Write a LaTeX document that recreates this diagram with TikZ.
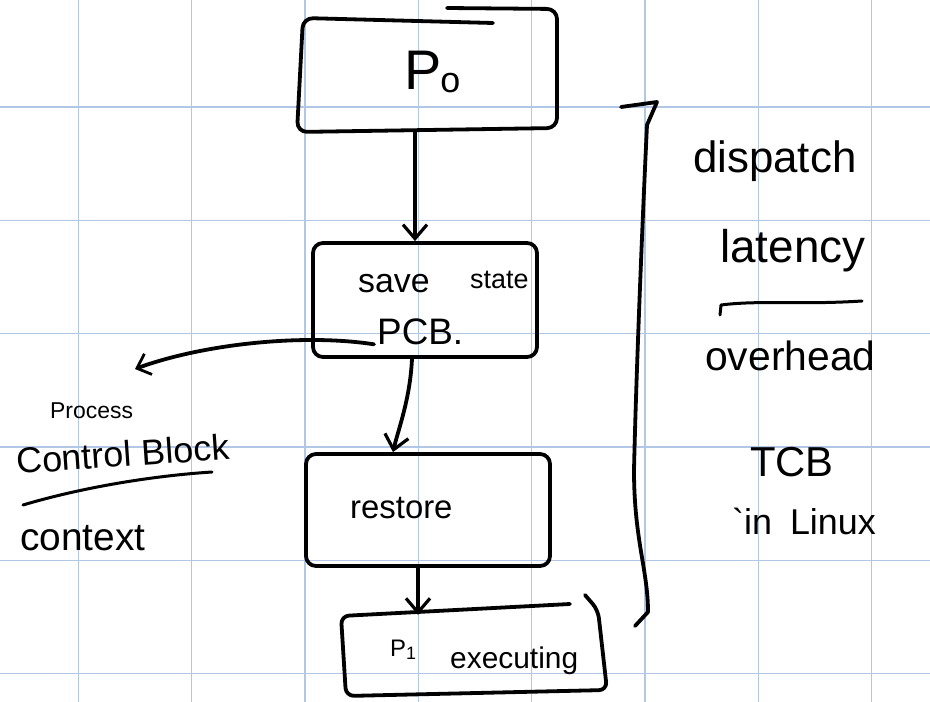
\documentclass[tikz,border=0pt]{standalone}
\usepackage{fontspec}
\setmainfont{Liberation Sans}
\usetikzlibrary{arrows.meta}
\definecolor{gridc}{RGB}{178,198,230}
\tikzset{
  ink/.style={line width=3.8bp, draw=black, line cap=round, line join=round},
  boxnode/.style={ink, rounded corners=10bp, inner sep=0pt},
  ghost/.style={draw=none, inner sep=0pt},
  flow/.style={ink, -{Straight Barb[length=14bp,width=24bp,line width=3.2bp]}},
  hand/.style={inner sep=0pt, anchor=base west, text=black},
  gridline/.style={draw=gridc, line width=1.3bp}
}
\newcommand{\fs}[1]{\fontsize{#1}{#1}\selectfont}
\begin{document}
\begin{tikzpicture}[x=1bp,y=-1bp]
\useasboundingbox (0,0) rectangle (930,702);
\fill[white] (0,0) rectangle (930,702);
% grid
\foreach \k in {0,...,7} { \draw[gridline] ({78.5+113.3*\k},0) -- ({78.5+113.3*\k},702); }
\foreach \k in {0,...,5} { \draw[gridline] (0,{107+113.3*\k}) -- (930,{107+113.3*\k}); }

% boxes
\node[ghost, minimum width=260bp, minimum height=113bp] (p0) at (427,72) {};
\draw[ink, rounded corners=10bp] (493,23) -- (303,18) -- (297,132) -- (557,128) -- (557,9) -- (447,8);
\node[boxnode, minimum width=224bp, minimum height=114bp] (save) at (425,300) {};
\node[boxnode, minimum width=244bp, minimum height=112bp] (restore) at (428,510) {};
\node[ghost, minimum width=268bp, minimum height=84bp] (p1) at (474,651) {};
\draw[ink, rounded corners=8bp] (570,604) -- (341,616) -- (346,696) -- (607,690) -- (598,610) -- (585,595);

% box texts
\node[hand] (p0t) at (404,90) {\fs{56}P\kern-1bp\raisebox{-3bp}{\fs{36}o}};
\node[hand] (savet) at (358,292) {\fs{34}save};
\node[hand] (statet) at (470,288) {\fs{27}state};
\node[hand] (pcb) at (377,344) {\fs{37}PCB.};
\node[hand] (restoret) at (350,518) {\fs{33}restore};
\node[hand] (p1t) at (390,656) {\fs{24}P\raisebox{-3bp}{\fs{18}1}};
\node[hand] (exect) at (450,668) {\fs{30}executing};

% connectors
\draw[flow] ([xshift=-12bp,yshift=-2bp]p0.south) -- ([xshift=-10bp]save.north);
\draw[flow] ([xshift=-13bp]save.south) .. controls (410,400) and (398,430) .. ([xshift=-35bp]restore.north);
\draw[flow] ([xshift=-10bp]restore.south) -- ([xshift=-56bp,yshift=-6bp]p1.north);
\coordinate (pcbtip) at (135,369);
\draw[ink, -{Straight Barb[length=12bp,width=22bp,line width=2.8bp]}] ([xshift=-3bp,yshift=-13bp]pcb.west) .. controls (300,333) and (200,345) .. (pcbtip);

% left notes
\node[hand] (proc) at (50,418) {\fs{23}Process};
\node[hand, rotate=4] (cblock) at (17,474) {\fs{36}Control Block};
\coordinate (u1a) at (23,505);
\coordinate (u1b) at (212,472);
\draw[ink, line width=3bp] (u1a) .. controls (80,488) and (150,476) .. (u1b);
\node[hand] (ctx) at (20,550) {\fs{39}context};

% bracket
\coordinate (b1) at (621,107);
\coordinate (b2) at (657,102);
\coordinate (b3) at (647,125);
\coordinate (b4) at (634,470);
\coordinate (b5) at (648,612);
\coordinate (b6) at (635,626);
\draw[ink] (b1) -- (b2) -- (b3) .. controls (642,230) and (636,380) .. (b4) .. controls (634,540) and (648,570) .. (b5) -- (b6);

% right notes
\node[hand] (disp) at (693,173) {\fs{44}dispatch};
\node[hand] (lat) at (720,262) {\fs{46}latency};
\coordinate (u2a) at (720,315);
\coordinate (u2b) at (721,305);
\coordinate (u2c) at (862,301);
\draw[ink, line width=3bp] (u2a) -- (u2b) .. controls (760,300) and (800,305) .. (u2c);
\node[hand] (over) at (705,370) {\fs{41}overhead};
\node[hand] (tcb) at (750,476) {\fs{42}TCB};
\node[hand] (linux) at (732,534) {\fs{36}\textasciigrave in\hspace{18bp}Linux};
\end{tikzpicture}
\end{document}
